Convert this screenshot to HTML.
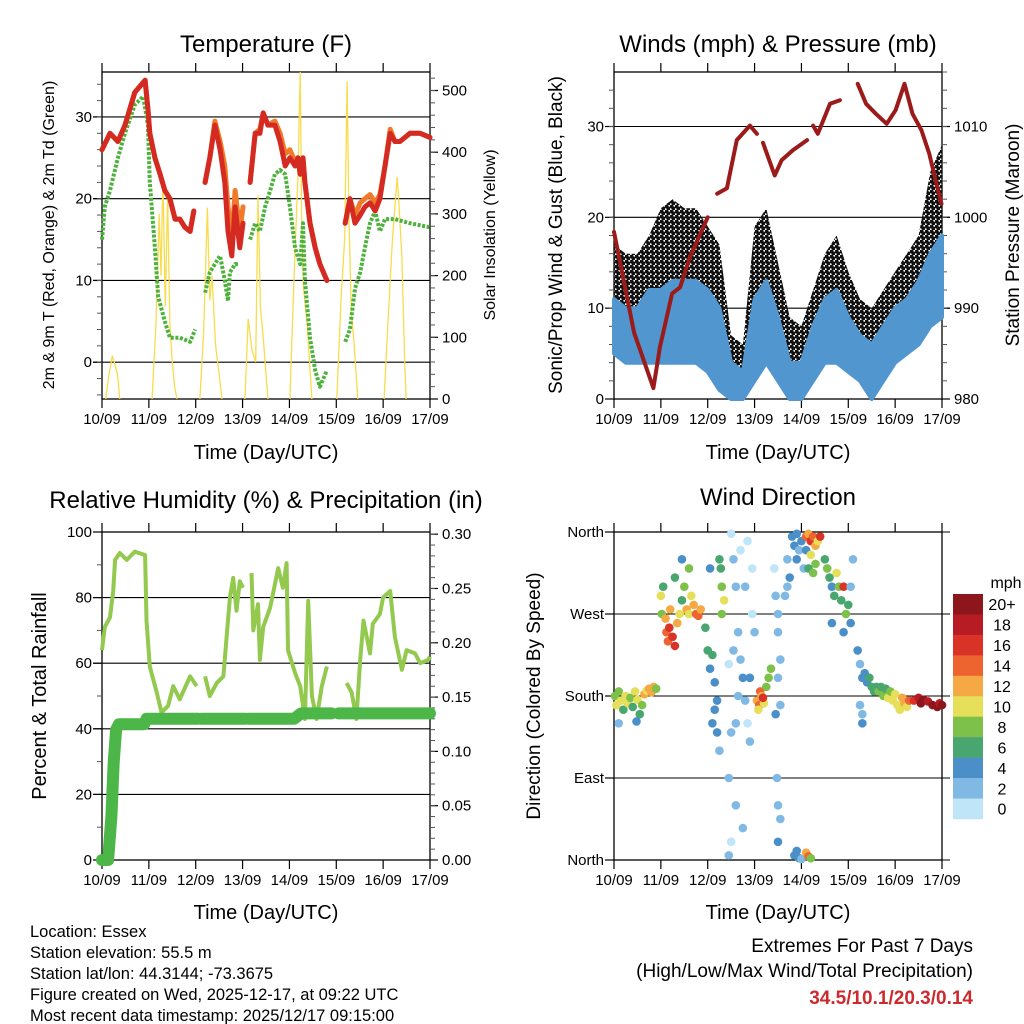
<!DOCTYPE html>
<html><head><meta charset="utf-8"><style>
html,body{margin:0;padding:0;background:#fff;}
svg{display:block;font-family:"Liberation Sans",Arial,sans-serif;}
</style></head><body>
<svg id="s" width="1024" height="1024" viewBox="0 0 1024 1024" xmlns="http://www.w3.org/2000/svg">
<defs>
<pattern id="gustdots" width="5" height="5" patternUnits="userSpaceOnUse">
<circle cx="1.25" cy="1.25" r="2.3" fill="#111"/><circle cx="3.75" cy="3.75" r="2.3" fill="#111"/>
</pattern>
</defs>
<rect width="1024" height="1024" fill="#fff"/>
<text x="266" y="52" font-size="24" text-anchor="middle">Temperature (F)</text>
<text x="778" y="52" font-size="24" text-anchor="middle">Winds (mph) &amp; Pressure (mb)</text>
<text x="266" y="508" font-size="24" text-anchor="middle">Relative Humidity (%) &amp; Precipitation (in)</text>
<text x="778" y="505" font-size="24" text-anchor="middle">Wind Direction</text>
<text transform="translate(54,235) rotate(-90)" font-size="16" text-anchor="middle">2m &amp; 9m T (Red, Orange) &amp; 2m Td (Green)</text>
<text transform="translate(495,235) rotate(-90)" font-size="16" text-anchor="middle">Solar Insolation (Yellow)</text>
<text transform="translate(562,235) rotate(-90)" font-size="19" text-anchor="middle">Sonic/Prop Wind &amp; Gust (Blue, Black)</text>
<text transform="translate(1019,235) rotate(-90)" font-size="19" text-anchor="middle">Station Pressure (Maroon)</text>
<text transform="translate(46,696) rotate(-90)" font-size="20" text-anchor="middle">Percent &amp; Total Rainfall</text>
<text transform="translate(540,696) rotate(-90)" font-size="19" text-anchor="middle">Direction (Colored By Speed)</text>
<text x="266" y="459" font-size="20" text-anchor="middle">Time (Day/UTC)</text>
<text x="778" y="459" font-size="20" text-anchor="middle">Time (Day/UTC)</text>
<text x="266" y="919" font-size="20" text-anchor="middle">Time (Day/UTC)</text>
<text x="778" y="919" font-size="20" text-anchor="middle">Time (Day/UTC)</text>
<g font-size="16.5">
<text x="30" y="937">Location: Essex</text>
<text x="30" y="958">Station elevation: 55.5 m</text>
<text x="30" y="979">Station lat/lon: 44.3144; -73.3675</text>
<text x="30" y="1000">Figure created on Wed, 2025-12-17, at 09:22 UTC</text>
<text x="30" y="1021">Most recent data timestamp: 2025/12/17 09:15:00</text>
</g>
<text x="973" y="952" font-size="19" text-anchor="end">Extremes For Past 7 Days</text>
<text x="973" y="977" font-size="19" text-anchor="end">(High/Low/Max Wind/Total Precipitation)</text>
<text x="973" y="1004" font-size="19" font-weight="bold" fill="#cc2a2e" text-anchor="end">34.5/10.1/20.3/0.14</text>
</svg>
<script>
// ---------- data ----------
const dayLabels=["10/09","11/09","12/09","13/09","14/09","15/09","16/09","17/09"];
const tempDays=[0,0.17,0.34,0.49,0.7,0.92,0.98,1.02,1.13,1.24,1.34,1.45,1.56,1.66,1.77,1.88,1.96,1.98,2.2,2.3,2.41,2.52,2.62,2.69,2.77,2.84,2.94,3.01,3.05,3.16,3.27,3.37,3.44,3.54,3.69,3.8,3.91,4.01,4.12,4.18,4.23,4.29,4.33,4.44,4.55,4.65,4.8,4.9,5.19,5.29,5.4,5.51,5.61,5.72,5.83,5.93,6.04,6.15,6.25,6.36,6.57,6.79,7.0];
const tempRed=[26,28,27,29,33,34.5,31,28,25,23,21,20,17.5,17.5,16.5,16,18.5,null,22,25,29,26,22,16,13,19,14,17,null,22,28,28,30.5,29,29,27,24,25,24,25,23,25,22,17,14,12,10,null,17,20,17,18,19,19.5,18.5,20,24,28,27,27,28,28,27.5];
const tempOrange=[26,28,27,29,33,34.5,31,28,25,23,21,20,17.5,17.5,16.5,16,18.5,null,22,25,29.5,27,24,19,15,21,16,19,null,22,28,28.5,30.5,29,29.5,28,25.5,26,24.5,25,23,25,22,17,14,12,10,null,17,20,18,19.5,20,20.5,19.5,20.5,24,28.5,27,27,28,28,27.5];
const dewDays=[0,0.06,0.17,0.34,0.49,0.7,0.88,0.98,1.02,1.13,1.2,1.34,1.45,1.66,1.88,1.99,2.02,2.2,2.3,2.41,2.52,2.62,2.69,2.73,2.84,2.92,3.05,3.16,3.27,3.37,3.48,3.59,3.69,3.8,3.91,4.01,4.12,4.23,4.29,4.33,4.44,4.55,4.65,4.8,4.9,5.19,5.29,5.4,5.51,5.61,5.72,5.83,5.93,6.04,6.25,6.57,7.0];
const dewPoint=[15,19,21,25,28,31.5,32.5,29,22,14,8,5,3,3,2.5,4,null,8.5,11,12,13,10,7.5,11,12,12,null,15,17,16,19,21,23,23.5,23,19,14,12,17,10,3,-1,-3,-1,null,2.5,4,9,11,14,17,18.5,16,17.5,17.5,17,16.5];
const solarDays=[0.08,0.15,0.22,0.28,0.33,0.38,null,1.07,1.15,1.22,1.26,1.3,1.35,1.4,1.45,1.5,1.55,1.6,null,2.09,2.17,2.25,2.3,2.35,2.42,2.5,2.56,null,3.05,3.12,3.2,3.28,3.33,3.38,3.45,3.54,null,4.01,4.1,4.18,4.23,4.26,4.3,4.38,4.48,null,5.01,5.1,5.18,5.23,5.27,5.32,5.38,5.46,null,6.02,6.1,6.2,6.3,6.35,6.4,6.46,6.49];
const solarVals=[0,40,70,55,40,0,null,0,120,300,200,360,150,330,120,60,20,0,null,0,110,310,160,200,90,40,0,null,0,130,80,60,330,150,90,0,null,0,200,360,530,300,180,120,0,null,0,160,260,515,300,140,90,0,null,0,120,260,360,300,230,60,0];
const tempTicks=[0,10,20,30];
const solarTicks=[0,100,200,300,400,500];

const windDays=[0,0.25,0.5,0.75,1,1.25,1.5,1.75,2,2.25,2.5,2.75,3,3.25,3.5,3.75,4,4.25,4.5,4.75,5,5.25,5.5,5.75,6,6.25,6.5,6.75,7];
const windLow=[5,4,4,4,4,4,4,4,3,1,0,0,2,4,2,0,0,2,4,4,3,2,0,2,4,5,6,8,9];
const windHigh=[11,10,10,12,12,13,13,13,12,10,4,3,11,13,9,4,4,8,11,12,9,7,6,8,10,11,13,16,18];
const gustHigh=[17,16,16,18,21,22,21,21,19,17,7,6,19,21,15,9,8,12,16,18,14,11,10,12,14,16,18,25,28];
const pressDays=[0,0.43,0.84,0.98,1.24,1.41,1.62,2.0,null,2.2,2.41,2.62,2.9,3.05,null,3.18,3.43,3.58,3.82,4.12,null,4.25,4.35,4.61,4.82,null,5.2,5.38,5.59,5.82,6.01,6.2,6.37,6.56,6.73,6.88,6.99];
const pressVals=[998.4,987.3,981.2,985.7,991.6,992.3,995.6,1000,null,1002.6,1003.2,1008.5,1010.1,1009.2,null,1008.2,1004.6,1006.3,1007.4,1008.5,null,1010.1,1009.2,1012.5,1012.9,null,1014.7,1012.5,1011.4,1010.3,1011.8,1014.7,1011.4,1009.6,1007,1003.7,1001.5];
const windTicks=[0,10,20,30];
const pressTicks=[980,990,1000,1010];

const rhDays=[0,0.06,0.17,0.24,0.28,0.38,0.53,0.7,0.92,0.95,1.02,1.17,1.27,1.41,1.52,1.66,1.88,2.02,null,2.2,2.3,2.45,2.59,2.66,2.73,2.8,2.87,2.94,3.01,null,3.19,3.23,3.33,3.37,3.44,3.59,3.76,3.86,3.94,3.97,4.12,4.23,4.33,4.4,4.48,4.58,4.69,4.8,null,5.22,5.33,5.43,5.51,5.58,5.72,5.78,5.93,6.0,6.15,6.25,6.4,6.5,6.68,6.79,6.96,7.0];
const rhVals=[64,71,74,82,91.5,93.6,91.5,94,93,73,59,51,45,47,53,49,56,53,null,56,50,54,56,68,80,86,76,85,83,null,87.5,70,78,61,71,77,89,83,90.5,64,57,53,43,79,50,43,53,59,null,54,51,43,61,73,63,72,75,80,82,68,58,64,63,60,61,62];
const precipDays=[0,0.13,0.2,0.25,0.3,0.36,0.9,0.95,2.05,null,2.12,3.05,null,3.12,4.1,4.25,4.9,null,5.05,7.0];
const precipVals=[0,0,0.04,0.09,0.12,0.125,0.125,0.13,0.13,null,0.13,0.13,null,0.13,0.13,0.135,0.135,null,0.135,0.135];
const rhTicks=[0,20,40,60,80,100];
const precipTicks=[0,0.05,0.10,0.15,0.20,0.25,0.30];
const precipTickLabels=["0.00","0.05","0.10","0.15","0.20","0.25","0.30"];

const dirDays=[0.02,0.05,0.1,0.15,0.2,0.25,0.3,0.35,0.4,0.45,0.5,0.55,0.6,0.65,0.7,0.75,0.8,0.85,0.9,0.48,0.1,
1.0,1.02,1.05,1.1,1.12,1.15,1.18,1.2,1.25,1.3,1.35,1.4,1.45,1.5,1.55,1.6,1.65,1.7,1.75,1.8,1.85,1.3,1.45,1.6,
1.95,2.0,2.05,2.1,2.15,2.05,2.25,2.3,2.35,2.28,2.3,2.15,2.2,2.25,2.1,2.2,
2.45,2.5,2.55,2.6,2.65,2.7,2.75,2.8,2.85,2.9,2.95,3.0,2.55,2.65,2.6,2.7,2.8,2.9,2.45,2.5,2.6,2.45,2.5,2.85,2.95,2.75,
3.05,3.1,3.12,3.15,3.2,3.25,3.3,3.35,3.08,3.18,
3.42,3.45,3.5,3.55,3.5,3.45,3.55,3.48,3.5,3.55,3.5,3.5,
3.8,3.85,3.9,3.95,3.9,4.0,4.05,4.1,3.85,3.9,3.95,4.0,3.7,3.75,3.7,3.65,
4.1,4.15,4.2,4.25,4.3,4.35,4.4,4.2,4.3,4.15,4.25,4.1,4.15,4.2,
4.5,4.55,4.6,4.65,4.7,4.75,4.8,4.85,4.9,4.95,5.0,5.05,4.65,4.9,5.05,5.1,
5.2,5.25,5.3,5.25,5.3,5.35,5.4,5.45,5.5,5.55,5.6,5.3,
5.65,5.7,5.75,5.8,5.85,5.9,5.95,6.0,6.05,6.1,6.15,6.2,6.25,6.3,
6.4,6.5,6.55,6.6,6.7,6.8,6.9,6.95,7.0];
const dirDeg=[180,170,185,175,165,180,172,178,168,185,176,160,170,182,186,188,184,190,188,152,150,
290,270,300,265,250,240,255,275,245,235,260,270,285,300,275,270,290,280,270,268,275,310,330,320,
255,230,210,225,195,320,330,300,285,320,270,165,140,120,150,175,
90,358,330,300,250,220,200,175,150,130,270,250,230,180,150,340,300,200,215,140,60,5,20,350,320,35,
175,170,185,180,172,190,200,210,165,178,
320,290,250,220,200,160,170,90,60,45,20,270,
355,345,358,340,330,350,320,340,5,10,2,1,300,310,330,290,
355,358,350,355,345,350,355,335,325,320,315,8,4,2,
330,320,310,300,290,315,300,285,300,270,280,260,260,250,300,330,
230,215,200,170,150,205,195,200,190,185,190,160,
185,190,180,188,178,185,175,182,170,165,178,172,168,175,
175,178,172,176,174,170,168,172,170];
const dirSpeed=[8,10,8,10,6,9,10,8,6,10,9,6,8,11,10,12,12,12,8,4,2,
10,8,6,12,14,14,16,12,15,16,12,10,6,8,12,10,9,12,14,14,12,6,4,8,
6,6,4,6,4,4,6,8,10,6,8,4,4,2,4,4,
2,0,2,2,2,2,3,2,0,2,0,2,2,2,2,0,2,3,0,2,2,2,0,0,0,2,
12,14,14,12,10,8,8,8,10,16,
0,2,2,2,2,4,2,2,2,2,4,2,
4,4,4,2,4,4,2,4,4,4,4,2,2,4,2,2,
14,12,16,14,12,10,16,10,8,6,8,12,14,8,
6,8,6,4,6,10,8,6,16,8,6,4,4,4,2,2,
4,2,4,2,4,4,4,6,6,6,6,2,
8,6,8,6,10,8,10,10,10,10,12,12,10,14,
16,18,20,20,18,20,20,18,20];
const dirTicks=[0,90,180,270,360];
const dirTickLabels=["North","East","South","West","North"];
const speedBinLabels=["0","2","4","6","8","10","12","14","16","18","20+"];
const speedBinColors=["#bfe5f8","#80b9e3","#4a8fc8","#4aa66f","#7dc14a","#e6df5a","#f5a944","#ee6430","#d93328","#b71c24","#8c161c"];

// ---------- drawing ----------
const svg=document.getElementById('s');
const NS='http://www.w3.org/2000/svg';
function mk(tag,attrs,parent){const e=document.createElementNS(NS,tag);for(const k in attrs)e.setAttribute(k,attrs[k]);(parent||svg).appendChild(e);return e;}
function panel(x0,x1,y0,y1){return {x0,x1,y0,y1,xs:d=>x0+d/7*(x1-x0)};}
function lin(v0,v1,p){return v=>p.y1-(v-v0)/(v1-v0)*(p.y1-p.y0);}
function pathFrom(xsArr,ysArr,xf,yf){let s='',pen=false;for(let i=0;i<xsArr.length;i++){if(xsArr[i]===null||ysArr[i]===null){pen=false;continue;}s+=(pen?'L':'M')+xf(xsArr[i]).toFixed(1)+' '+yf(ysArr[i]).toFixed(1)+' ';pen=true;}return s;}

function frame(p,name,gridVals,gy,gridLeft,gridRight){
  const g=mk('g',{});
  
  
  gridVals.forEach(v=>{const l=mk('line',{x1:gridLeft,x2:gridRight,y1:gy(v),y2:gy(v),stroke:'#000','stroke-width':1.1},g);
    
    });
  const r=mk('rect',{x:p.x0,y:p.y0,width:p.x1-p.x0,height:p.y1-p.y0,fill:'none',stroke:'#000','stroke-width':1.3},g);
  
  
  for(let d=0;d<=7;d++){const x=p.xs(d);
    mk('line',{x1:x,x2:x,y1:p.y0-9,y2:p.y0,stroke:'#000','stroke-width':1.2},g);
    mk('line',{x1:x,x2:x,y1:p.y1,y2:p.y1+9,stroke:'#000','stroke-width':1.2},g);
    const t=mk('text',{x:x,y:p.y1+25,'font-size':15,'text-anchor':'middle'},g);t.textContent=dayLabels[d];
    
    
  }
  return g;
}
function yAxis(p,vals,labels,yf,side,minorVals,g){
  vals.forEach((v,i)=>{const y=yf(v);
    if(side==='right'){mk('line',{x1:p.x1,x2:p.x1+8,y1:y,y2:y,stroke:'#000','stroke-width':1.2},g);}
    else{mk('line',{x1:p.x0-9,x2:p.x0,y1:y,y2:y,stroke:'#000','stroke-width':1.2},g);}
    const t=mk('text',{x:side==='right'?p.x1+12:p.x0-10,y:y+5,'font-size':15,'text-anchor':side==='right'?'start':'end'},g);
    t.textContent=labels[i];
    
    
  });
  (minorVals||[]).forEach(v=>{const y=yf(v);
    if(side==='right')mk('line',{x1:p.x1,x2:p.x1+5,y1:y,y2:y,stroke:'#555','stroke-width':1},g);
    else mk('line',{x1:p.x0-5,x2:p.x0,y1:y,y2:y,stroke:'#555','stroke-width':1},g);});
}
function range(a,b,s){const r=[];for(let v=a;v<=b+1e-9;v+=s)r.push(+v.toFixed(4));return r;}

// Panel 1: Temperature
const p1=panel(102,430,72,399);
const t1=lin(-4.5,35.5,p1), s1=lin(0,530,p1);
const g1=frame(p1,'temperature',tempTicks,t1,93,430);
yAxis(p1,tempTicks,tempTicks.map(String),t1,'left',range(-4,34,2),g1);
yAxis(p1,solarTicks,solarTicks.map(String),s1,'right',range(20,520,20),g1);
const sol=mk('path',{d:pathFrom(solarDays,solarVals,p1.xs,s1),fill:'none',stroke:'#f8dc4c','stroke-width':1.3});


const dew=mk('path',{d:pathFrom(dewDays,dewPoint,p1.xs,t1),fill:'none',stroke:'#4cb23c','stroke-width':4,'stroke-dasharray':'3 1.6','stroke-linejoin':'round'});


const org=mk('path',{d:pathFrom(tempDays,tempOrange,p1.xs,t1),fill:'none',stroke:'#f07a2a','stroke-width':5,'stroke-linejoin':'round','stroke-linecap':'round'});


const red=mk('path',{d:pathFrom(tempDays,tempRed,p1.xs,t1),fill:'none',stroke:'#d42a22','stroke-width':5,'stroke-linejoin':'round','stroke-linecap':'round'});



// Panel 2: Winds & Pressure
const p2=panel(614,942,72,399);
const w2=lin(0,36,p2), pr2=lin(980,1016,p2);
const g2=frame(p2,'winds',windTicks,w2,614,950);
yAxis(p2,windTicks,windTicks.map(String),w2,'left',range(2,34,2),g2);
yAxis(p2,pressTicks,pressTicks.map(String),pr2,'right',range(982,1016,2),g2);
function band(days,lo,hi,yf,xf,color,name,sw){
  let s='M';for(let i=0;i<days.length;i++)s+=xf(days[i]).toFixed(1)+' '+yf(hi[i]).toFixed(1)+' L';
  for(let i=days.length-1;i>=0;i--)s+=xf(days[i]).toFixed(1)+' '+yf(lo[i]).toFixed(1)+(i?' L':' Z');
  const e=mk('path',{d:s,fill:color,stroke:sw?color:'none','stroke-width':sw||0,'stroke-linejoin':'round'});
  
  
}
band(windDays,windLow,gustHigh,w2,p2.xs,'url(#gustdots)','gust-band',0);
band(windDays,windLow,windHigh,w2,p2.xs,'#5296d0','wind-speed-band',4);
const pr=mk('path',{d:pathFrom(pressDays,pressVals,p2.xs,pr2),fill:'none',stroke:'#9b1b1b','stroke-width':4,'stroke-linejoin':'round','stroke-linecap':'round'});



// Panel 3: RH & Precip
const p3=panel(102,430,532,860);
const h3=lin(0,100,p3), q3=lin(0,0.302,p3);
const g3=frame(p3,'humidity',rhTicks,h3,93,430);
yAxis(p3,rhTicks,rhTicks.map(String),h3,'left',range(10,90,20),g3);
yAxis(p3,precipTicks,precipTickLabels,q3,'right',range(0.01,0.30,0.01),g3);
const rh=mk('path',{d:pathFrom(rhDays,rhVals,p3.xs,h3),fill:'none',stroke:'#92c94e','stroke-width':4,'stroke-linejoin':'round'});


const pc=mk('path',{d:pathFrom(precipDays,precipVals,p3.xs,q3),fill:'none',stroke:'#4cb648','stroke-width':12,'stroke-linejoin':'round','stroke-linecap':'round'});



// Panel 4: Wind direction
const p4=panel(614,942,532,860);
const d4=lin(0,360,p4);
const g4=frame(p4,'direction',dirTicks,d4,605,950);
yAxis(p4,dirTicks,dirTickLabels,d4,'left',[],g4);
const dots=mk('g',{});


for(let i=0;i<dirDays.length;i++){
  const b=Math.min(10,Math.round(dirSpeed[i]/2));
  const c=mk('circle',{cx:p4.xs(dirDays[i]),cy:d4(dirDeg[i]),r:4.3,fill:speedBinColors[b]},dots);
  
  
}
// colorbar
const cb=mk('g',{});


const cbTop=594,cbH=20.45;
for(let i=0;i<speedBinLabels.length;i++){
  const k=speedBinLabels.length-1-i;
  const r=mk('rect',{x:953,y:cbTop+i*cbH,width:30,height:cbH+0.3,fill:speedBinColors[k]},cb);
  
  
  const t=mk('text',{x:1002,y:cbTop+i*cbH+cbH/2+6,'font-size':16,'text-anchor':'middle'},cb);
  t.textContent=speedBinLabels[k];
  
  
}
const mph=mk('text',{x:1006,y:588,'font-size':16,'text-anchor':'middle'},cb);
mph.textContent='mph';


</script>
</body></html>
